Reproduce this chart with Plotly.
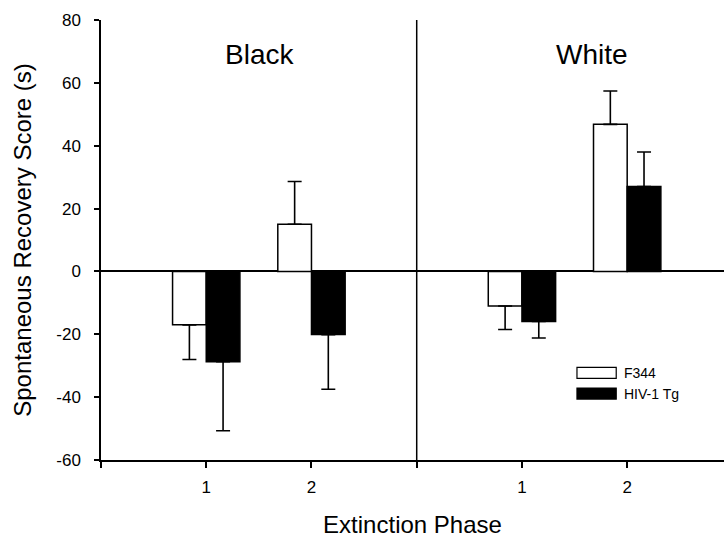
import plotly.graph_objects as go

# Data
x_pos = [1, 2, 4, 5]
tick_vals = [0, 1, 2, 3, 4, 5]
tick_text = ["", "1", "2", "", "1", "2"]
y_tick_vals = [-60, -40, -20, 0, 20, 40, 60, 80]
y_tick_text = ["-60", "-40", "-20", "0", "20", "40", "60", "80"]
f344_vals = [-17.0, 15.0, -11.0, 46.8]
f344_err = [11.0, 13.6, 7.5, 10.6]
hiv_vals = [-28.7, -20.1, -15.9, 27.0]
hiv_err = [22.0, 17.4, 5.3, 11.0]
panel_labels = ["Black", "White"]
panel_x = [1.505, 4.67]
series_names = ["F344", "HIV-1 Tg"]

def split_err(vals, errs):
    up = [e if v >= 0 else 0 for v, e in zip(vals, errs)]
    dn = [e if v < 0 else 0 for v, e in zip(vals, errs)]
    return up, dn

font_family = "Arial, Liberation Sans, sans-serif"

fig = go.Figure()
for name, vals, errs, fill in [(series_names[0], f344_vals, f344_err, "white"),
                               (series_names[1], hiv_vals, hiv_err, "black")]:
    up, dn = split_err(vals, errs)
    fig.add_trace(go.Bar(
        x=x_pos, y=vals, name=name,
        marker=dict(color=fill, line=dict(color="black", width=1.5)),
        error_y=dict(type="data", symmetric=False, array=up, arrayminus=dn,
                     color="black", thickness=1.6, width=7),
        showlegend=False,
    ))

fig.update_layout(
    width=724, height=544,
    margin=dict(l=101, r=0, t=20, b=84),
    paper_bgcolor="white", plot_bgcolor="white",
    barmode="group", bargap=0.36, bargroupgap=0,
    font=dict(family=font_family, color="black"),
    xaxis=dict(range=[0, 5.92], tickmode="array", tickvals=tick_vals, ticktext=tick_text,
               showgrid=False, zeroline=False, showline=True, linecolor="black", linewidth=1.5,
               ticks="outside", ticklen=6, tickwidth=1.5, tickcolor="black",
               tickfont=dict(size=17, family=font_family, color="black"), ticklabelstandoff=5,
               title=dict(text="Extinction Phase", font=dict(size=24, family=font_family), standoff=20)),
    yaxis=dict(range=[-60, 80], tickmode="array", tickvals=y_tick_vals, ticktext=y_tick_text,
               showgrid=False, zeroline=True, zerolinecolor="black", zerolinewidth=1.5,
               showline=True, linecolor="black", linewidth=1.5,
               ticks="outside", ticklen=5, tickwidth=1.5, tickcolor="black",
               tickfont=dict(size=17, family=font_family, color="black"), ticklabelstandoff=10,
               title=dict(text="Spontaneous Recovery Score (s)", font=dict(size=24, family=font_family), standoff=18)),
)

# Panel divider
fig.add_shape(type="line", xref="x", yref="y", x0=3, x1=3, y0=-60, y1=80,
              line=dict(color="black", width=1.5))

# Panel labels
for lab, px in zip(panel_labels, panel_x):
    fig.add_annotation(x=px, y=69, xref="x", yref="y", text=lab, showarrow=False,
                       yanchor="middle", font=dict(size=28, family=font_family))

# Manual legend
leg_x0, leg_x1 = 0.764, 0.827
leg_rows = [(0.198, "white"), (0.151, "black")]
for (yc, fill), name in zip(leg_rows, series_names):
    fig.add_shape(type="rect", xref="paper", yref="paper", x0=leg_x0, x1=leg_x1,
                  y0=yc - 0.0125, y1=yc + 0.0125, fillcolor=fill, line=dict(color="black", width=1.2))
    fig.add_annotation(xref="paper", yref="paper", x=0.836, y=yc, text=name,
                       showarrow=False, xanchor="left", yanchor="middle",
                       font=dict(size=14, family=font_family))

fig.write_html("out.html")
